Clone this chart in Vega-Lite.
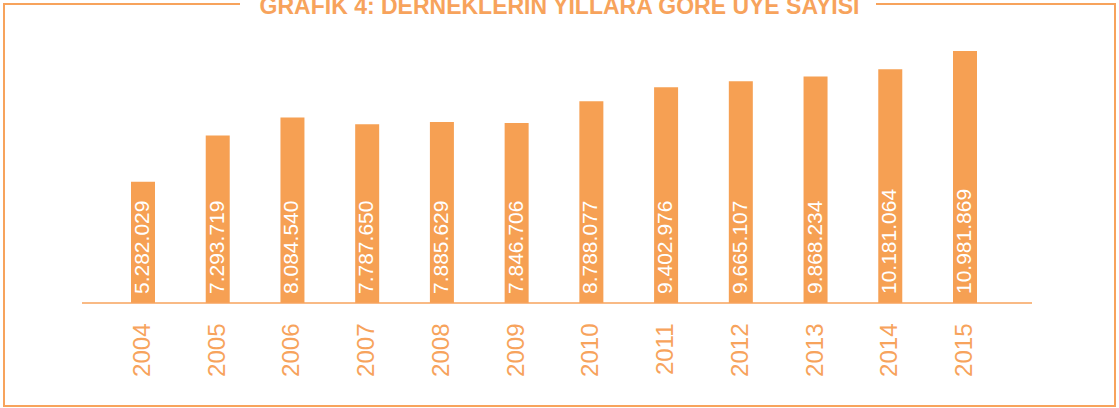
{
  "$schema": "https://vega.github.io/schema/vega-lite/v6.json",
  "width": 1111,
  "height": 402,
  "autosize": {"type": "none"},
  "padding": {"left": 4, "top": 4, "right": 4, "bottom": 2},
  "background": "white",
  "title": {
    "text": "GRAFİK 4: DERNEKLERİN YILLARA GÖRE ÜYE SAYISI",
    "anchor": "middle",
    "frame": "group",
    "font": "Liberation Sans",
    "fontSize": 23,
    "fontWeight": "bold",
    "color": "#F7A35C",
    "baseline": "alphabetic",
    "offset": 0,
    "dy": 33
  },
  "data": {
    "values": [
      {"year": "2004", "members": 5282029},
      {"year": "2005", "members": 7293719},
      {"year": "2006", "members": 8084540},
      {"year": "2007", "members": 7787650},
      {"year": "2008", "members": 7885629},
      {"year": "2009", "members": 7846706},
      {"year": "2010", "members": 8788077},
      {"year": "2011", "members": 9402976},
      {"year": "2012", "members": 9665107},
      {"year": "2013", "members": 9868234},
      {"year": "2014", "members": 10181064},
      {"year": "2015", "members": 10981869}
    ]
  },
  "encoding": {
    "x": {
      "field": "year",
      "type": "ordinal",
      "scale": {"range": [127, 973], "paddingInner": 0.6788, "paddingOuter": 0},
      "axis": {
        "orient": "bottom",
        "offset": -103,
        "domain": false,
        "ticks": false,
        "tickSize": 0,
        "grid": false,
        "title": null,
        "labelAngle": 270,
        "labelAlign": "right",
        "labelBaseline": "middle",
        "labelPadding": 20,
        "labelFont": "Liberation Sans",
        "labelFontSize": 24,
        "labelColor": "#F7A35C"
      }
    }
  },
  "layer": [
    {
      "mark": {"type": "bar", "color": "#F6A053"},
      "encoding": {
        "y": {
          "field": "members",
          "type": "quantitative",
          "scale": {"domain": [-4488000, 13028000], "nice": false, "zero": false},
          "axis": null
        }
      }
    },
    {
      "data": {"values": [{"from": "2004", "to": "2015"}]},
      "mark": {"type": "rule", "color": "#F7A35C", "strokeWidth": 1.5, "xOffset": -61, "x2Offset": 67},
      "encoding": {
        "x": {"field": "from", "type": "ordinal"},
        "x2": {"field": "to"},
        "y": {"datum": 0, "type": "quantitative"}
      }
    },
    {
      "mark": {
        "type": "text",
        "angle": 270,
        "align": "left",
        "baseline": "middle",
        "dx": 9,
        "color": "white",
        "font": "Liberation Sans",
        "fontSize": 21
      },
      "encoding": {
        "y": {"datum": 0, "type": "quantitative"},
        "text": {"field": "members", "type": "quantitative", "format": ","}
      }
    }
  ],
  "config": {
    "locale": {"number": {"decimal": ",", "thousands": ".", "grouping": [3], "currency": ["", ""]}},
    "view": {"stroke": "#F7A35C", "strokeWidth": 2, "strokeDash": [236, 636, 6000]}
  }
}
